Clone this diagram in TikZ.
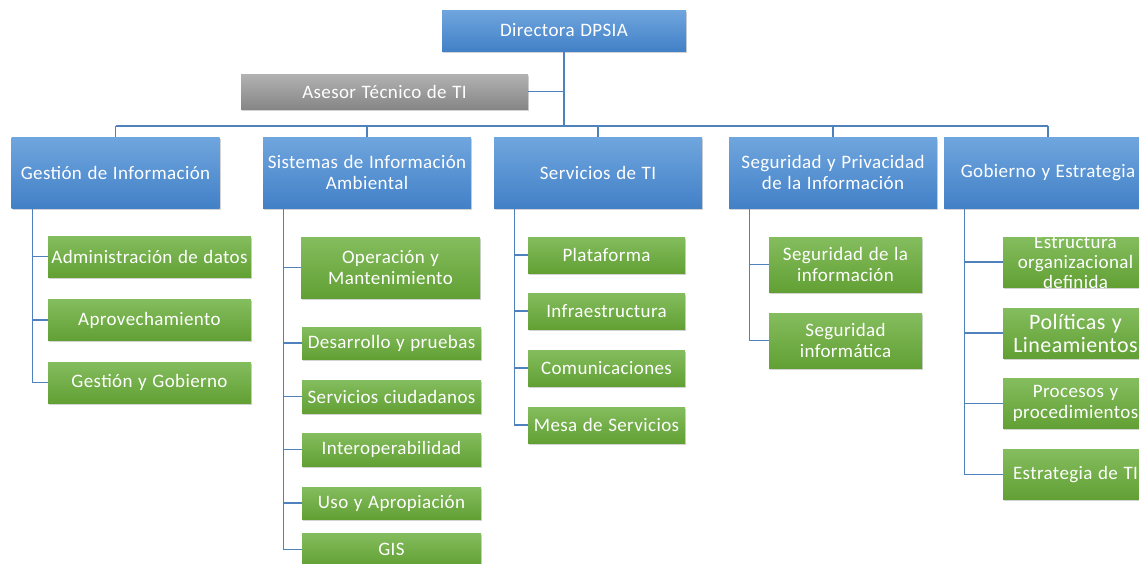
\documentclass[tikz,border=0pt]{standalone}
\usepackage{fontspec}
\setmainfont{Carlito}[LetterSpace=2,WordSpace=1.2]
\usepackage{tikz}
\usetikzlibrary{shadows}
\tikzset{>=latex}
\definecolor{bluetop}{RGB}{112,166,222}
\definecolor{bluebot}{RGB}{66,128,199}
\definecolor{greentop}{RGB}{132,189,94}
\definecolor{greenbot}{RGB}{98,160,52}
\definecolor{graytop}{RGB}{178,178,178}
\definecolor{graybot}{RGB}{134,134,134}
\definecolor{linkblue}{RGB}{79,129,189}
\tikzset{
  box/.style={rectangle,inner sep=0pt,align=center,text=white,
    font=\fontsize{19}{20.5}\selectfont,
    drop shadow={shadow xshift=1.2pt,shadow yshift=-1.8pt,opacity=.35}},
  boss/.style={box,top color=bluetop,bottom color=bluebot,
    minimum width=244pt,minimum height=41pt},
  advisor/.style={box,top color=graytop,bottom color=graybot,
    minimum width=287pt,minimum height=35pt},
  area/.style={box,top color=bluetop,bottom color=bluebot,
    minimum width=208pt,minimum height=71pt},
  task/.style n args={2}{box,top color=greentop,bottom color=greenbot,
    minimum width=#1,minimum height=#2},
  link/.style={draw=linkblue,line width=1.3pt}
}

\begin{document}
\begin{tikzpicture}[x=1pt,y=-1pt]
  % frame
  \useasboundingbox (0,0) rectangle (1139,563);
  \clip (0,0) rectangle (1139,563);

  % top
  \node[boss]    (dir) at (564,30.5)   {Directora DPSIA};
  \node[advisor] (ase) at (384.5,91.5) {Asesor Técnico de TI};

  % areas
  \node[area] (gi)  at (115.5,172.5) {Gestión de Información};
  \node[area] (sia) at (367,172.5)   {Sistemas de Información\\Ambiental};
  \node[area] (sti) at (598,172.5)   {Servicios de TI};
  \node[area] (spi) at (833,172.5)   {Seguridad y Privacidad\\de la Información};
  \node[area] (ge)  at (1048,172.5)  {Gobierno y Estrategia};

  % gestion de informacion
  \node[task={203pt}{41pt}] (gi1) at (149.5,256.5) {Administración de datos};
  \node[task={203pt}{41pt}] (gi2) at (149.5,320)   {Aprovechamiento};
  \node[task={203pt}{41pt}] (gi3) at (149.5,382.5) {Gestión y Gobierno};

  % sistemas de informacion ambiental
  \node[task={179pt}{61pt}] (sia1) at (390.5,267.5) {Operación y\\Mantenimiento};
  \node[task={179pt}{32pt}] (sia2) at (391.5,343)   {Desarrollo y pruebas};
  \node[task={179pt}{33pt}] (sia3) at (391.5,396.5) {Servicios ciudadanos};
  \node[task={179pt}{33pt}] (sia4) at (391.5,449.5) {Interoperabilidad};
  \node[task={179pt}{32pt}] (sia5) at (391.5,503)   {Uso y Apropiación};
  \node[task={179pt}{33pt}] (sia6) at (391.5,549.5) {GIS};

  % servicios de ti
  \node[task={157pt}{36pt}] (sti1) at (606.5,255) {Plataforma};
  \node[task={157pt}{36pt}] (sti2) at (606.5,311) {Infraestructura};
  \node[task={157pt}{36pt}] (sti3) at (606.5,368) {Comunicaciones};
  \node[task={157pt}{36pt}] (sti4) at (606.5,425) {Mesa de Servicios};

  % seguridad
  \node[task={153pt}{55pt}] (spi1) at (845.5,264.5) {Seguridad de la\\información};
  \node[task={153pt}{55pt}] (spi2) at (845.5,340.5) {Seguridad\\informática};

  % gobierno
  \node[task={145pt}{50pt},inner ysep=-6pt,font=\fontsize{19}{20}\selectfont]
    (ge1) at (1075.5,262) {Estructura\\organizacional\\definida};
  \node[task={145pt}{50pt},font=\fontsize{22}{23}\selectfont]
    (ge2) at (1075.5,333) {Políticas y\\Lineamientos};
  \node[task={145pt}{50pt}] (ge3) at (1075.5,403.5) {Procesos y\\procedimientos};
  \node[task={145pt}{50pt}] (ge4) at (1075.5,474.5) {Estrategia de TI};

  % lines
  \coordinate (busL) at (115.5,126);
  \coordinate (busR) at (1048,126);
  \draw[link] (dir.south) -- (dir.south |- busL);
  \draw[link] (ase.east) -- (ase.east -| dir.south);
  \draw[link] (busL) -- (busR);
  \foreach \a in {gi,sia,sti,spi,ge}
    \draw[link] (\a.north) -- (\a.north |- busL);

  \foreach \a/\kids in {gi/{gi1,gi2,gi3},sia/{sia1,sia2,sia3,sia4,sia5,sia6},
      sti/{sti1,sti2,sti3,sti4},spi/{spi1,spi2},ge/{ge1,ge2,ge3,ge4}}
    \foreach \c in \kids
      \draw[link] ([xshift=21pt]\a.south west) |- (\c.west);

\end{tikzpicture}
\end{document}
